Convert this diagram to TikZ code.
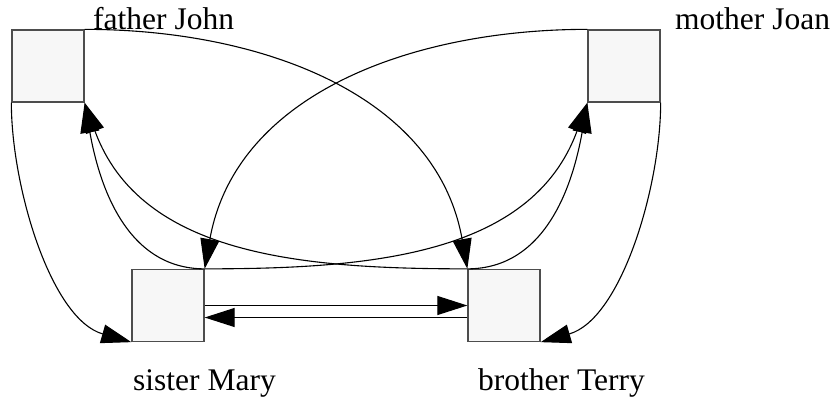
\documentclass[tikz,border=0pt]{standalone}
\usepackage{fontspec}
\setmainfont{Liberation Serif}
\usetikzlibrary{arrows.meta,positioning}
\definecolor{BoxFill}{HTML}{F7F7F7}
\definecolor{BoxEdge}{HTML}{4D4D4D}

\begin{document}
\begin{tikzpicture}[x=1pt,y=-1pt,>={Triangle[length=30pt,width=19pt]},
    member/.style={draw=BoxEdge,fill=BoxFill,line width=1.3pt,minimum size=72pt,inner sep=0pt},
    tag/.style={anchor=base west,inner sep=0pt,font=\fontsize{31.5}{36}\selectfont},
    link/.style={->,line width=1.1pt}]
  \useasboundingbox (0,0) rectangle (838,402);
  \node[member] (father) at (48,66) {};
  \node[member] (mother) at (624,66) {};
  \node[member] (sister) at (168,305.5) {};
  \node[member] (brother) at (504,305.5) {};
  \node[tag] (fatherTag) at (93,29) {father John};
  \node[tag] (motherTag) at (675,29) {mother Joan};
  \node[tag] (sisterTag) at (133,390) {sister Mary};
  \node[tag] (brotherTag) at (478,390) {brother Terry};
  % parents down to the children
  \draw[link] (father.north east) to[out=0,in=100] (brother.north west);
  \draw[link] (mother.north west) to[out=180,in=80] (sister.north east);
  \draw[link] (father.south west) to[out=-90,in=164,looseness=.8] (sister.south west);
  \draw[link] (mother.south east) to[out=-90,in=16,looseness=.8] (brother.south east);
  % children back up to the parents
  \draw[link] (sister.north east) to[out=180,in=-80] (father.south east);
  \draw[link] (brother.north west) to[out=180,in=-70] (father.south east);
  \draw[link] (sister.north east) to[out=0,in=-110] (mother.south west);
  \draw[link] (brother.north west) to[out=0,in=-100] (mother.south west);
  % between the children
  \draw[link] (sister.east) -- (brother.west);
  \draw[link] ([yshift=-12pt]brother.west) -- ([yshift=-12pt]sister.east);
\end{tikzpicture}
\end{document}
